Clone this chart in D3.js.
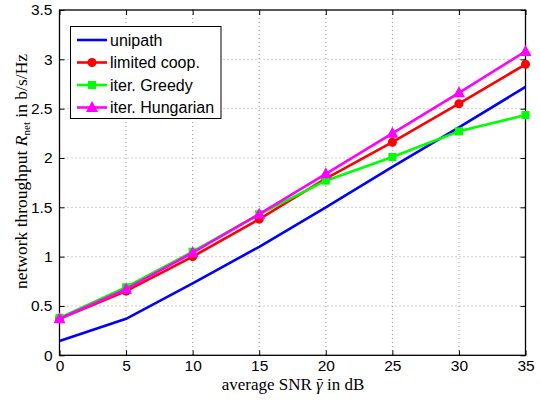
<!DOCTYPE html>
<html><head><meta charset="utf-8">
<script src="https://cdn.jsdelivr.net/npm/d3@7"></script>
<style>body{margin:0;background:#fff}svg{display:block}</style>
</head><body>
<svg id="c" width="540" height="401"></svg>
<script>
const snr = [0, 5, 10, 15, 20, 25, 30, 35];
const unipath = [0.145, 0.37, 0.73, 1.10, 1.50, 1.91, 2.31, 2.72];
const limitedCoop = [0.37, 0.65, 1.00, 1.38, 1.79, 2.16, 2.55, 2.95];
const iterGreedy = [0.38, 0.69, 1.05, 1.43, 1.77, 2.01, 2.27, 2.435];
const iterHungarian = [0.37, 0.67, 1.04, 1.43, 1.84, 2.25, 2.66, 3.08];
const xTicks = [0, 5, 10, 15, 20, 25, 30, 35];
const yTicks = [0, 0.5, 1, 1.5, 2, 2.5, 3, 3.5];
const seriesNames = ["unipath", "limited coop.", "iter. Greedy", "iter. Hungarian"];

const series = [
  {name: seriesNames[0], vals: unipath, color: "#0000ff", marker: null},
  {name: seriesNames[1], vals: limitedCoop, color: "#ff0000", marker: "circle"},
  {name: seriesNames[2], vals: iterGreedy, color: "#00ff00", marker: "square"},
  {name: seriesNames[3], vals: iterHungarian, color: "#ff00ff", marker: "triangle"}
];

const L = 59.5, R = 525.5, T = 10, B = 355.3;
const svg = d3.select("#c");
const x = d3.scaleLinear().domain([0, 35]).range([L, R]);
const y = d3.scaleLinear().domain([0, 3.5]).range([B, T]);
const tickFont = "'Liberation Sans', Arial, sans-serif";

// grid
const g = svg.append("g");
g.selectAll(".gx").data(xTicks.slice(1, -1)).enter().append("line")
  .attr("x1", d => x(d)).attr("x2", d => x(d)).attr("y1", T).attr("y2", B)
  .attr("stroke", "#888").attr("stroke-width", 0.8).attr("stroke-dasharray", "1,3");
g.selectAll(".gy").data(yTicks.slice(1, -1)).enter().append("line")
  .attr("y1", d => y(d)).attr("y2", d => y(d)).attr("x1", L).attr("x2", R)
  .attr("stroke", "#888").attr("stroke-width", 0.8).attr("stroke-dasharray", "1,3");

// axes
const xAx = svg.append("g").attr("transform", `translate(0,${B})`)
  .call(d3.axisBottom(x).tickValues(xTicks).tickSize(-5).tickPadding(5).tickFormat(d3.format("d")));
const xAxT = svg.append("g").attr("transform", `translate(0,${T})`)
  .call(d3.axisTop(x).tickValues(xTicks).tickSize(-5).tickFormat(""));
const yAx = svg.append("g").attr("transform", `translate(${L},0)`)
  .call(d3.axisLeft(y).tickValues(yTicks).tickSize(-5).tickPadding(7).tickFormat(d => String(d)));
const yAxR = svg.append("g").attr("transform", `translate(${R},0)`)
  .call(d3.axisRight(y).tickValues(yTicks).tickSize(-5).tickFormat(""));
[xAx, xAxT, yAx, yAxR].forEach(a => {
  a.select(".domain").remove();
  a.selectAll("line").attr("stroke", "#000").attr("stroke-width", 1);
  a.selectAll("text").attr("font-family", tickFont).attr("font-size", 15.5).attr("fill", "#000");
});
svg.append("rect").attr("x", L).attr("y", T).attr("width", R - L).attr("height", B - T)
  .attr("fill", "none").attr("stroke", "#000").attr("stroke-width", 1.3);

// lines
const line = d3.line().x((d, i) => x(snr[i])).y(d => y(d));
const drawMarker = (sel, m, color, cx, cy) => {
  if (m === "circle") sel.append("circle").attr("cx", cx).attr("cy", cy).attr("r", 4.5).attr("fill", color);
  else if (m === "square") sel.append("rect").attr("x", cx - 4).attr("y", cy - 4).attr("width", 8).attr("height", 8).attr("fill", color);
  else if (m === "triangle") sel.append("path").attr("d", `M${cx},${cy - 6.5}L${cx + 6},${cy + 4.5}L${cx - 6},${cy + 4.5}Z`).attr("fill", color);
};
series.forEach(s => {
  svg.append("path").datum(s.vals).attr("d", line).attr("fill", "none")
    .attr("stroke", s.color).attr("stroke-width", 2.6);
  if (s.marker) {
    const mg = svg.append("g");
    s.vals.forEach((v, i) => drawMarker(mg, s.marker, s.color, x(snr[i]), y(v)));
  }
});

// legend
const lg = svg.append("g");
lg.append("rect").attr("x", 70.5).attr("y", 26.5).attr("width", 150.5).attr("height", 92)
  .attr("fill", "#fff").attr("stroke", "#000").attr("stroke-width", 1);
series.forEach((s, i) => {
  const yy = 40 + i * 22.5;
  lg.append("line").attr("x1", 77).attr("x2", 107).attr("y1", yy).attr("y2", yy)
    .attr("stroke", s.color).attr("stroke-width", 2.6);
  if (s.marker) drawMarker(lg, s.marker, s.color, 92, yy);
  lg.append("text").attr("x", 110).attr("y", yy + 5.5).text(s.name)
    .attr("font-family", tickFont).attr("font-size", 16).attr("fill", "#000");
});

// axis labels
const serif = "'Liberation Serif', serif";
const xlY = 390;
const xl = svg.append("text").attr("x", 293).attr("y", xlY).attr("text-anchor", "middle")
  .attr("font-family", serif).attr("font-size", 17).attr("fill", "#000");
xl.append("tspan").text("average SNR ");
xl.append("tspan").attr("font-style", "italic").text("\u03B3");
xl.append("tspan").text(" in dB");
const gi = "average SNR ".length;
const ext = xl.node().getExtentOfChar(gi);
svg.append("line").attr("x1", ext.x + 1.5).attr("x2", ext.x + ext.width - 0.5)
  .attr("y1", xlY - 10.5).attr("y2", xlY - 10.5).attr("stroke", "#000").attr("stroke-width", 0.9);

const yl = svg.append("text").attr("transform", `translate(27,171.5) rotate(-90)`)
  .attr("text-anchor", "middle").attr("font-family", serif).attr("font-size", 17.5).attr("fill", "#000");
yl.append("tspan").text("network throughput ");
yl.append("tspan").attr("font-style", "italic").text("R");
yl.append("tspan").attr("font-size", 11).attr("dy", 3).text("net");
yl.append("tspan").attr("dy", -3).text(" in b/s/Hz");
</script>
</body></html>
